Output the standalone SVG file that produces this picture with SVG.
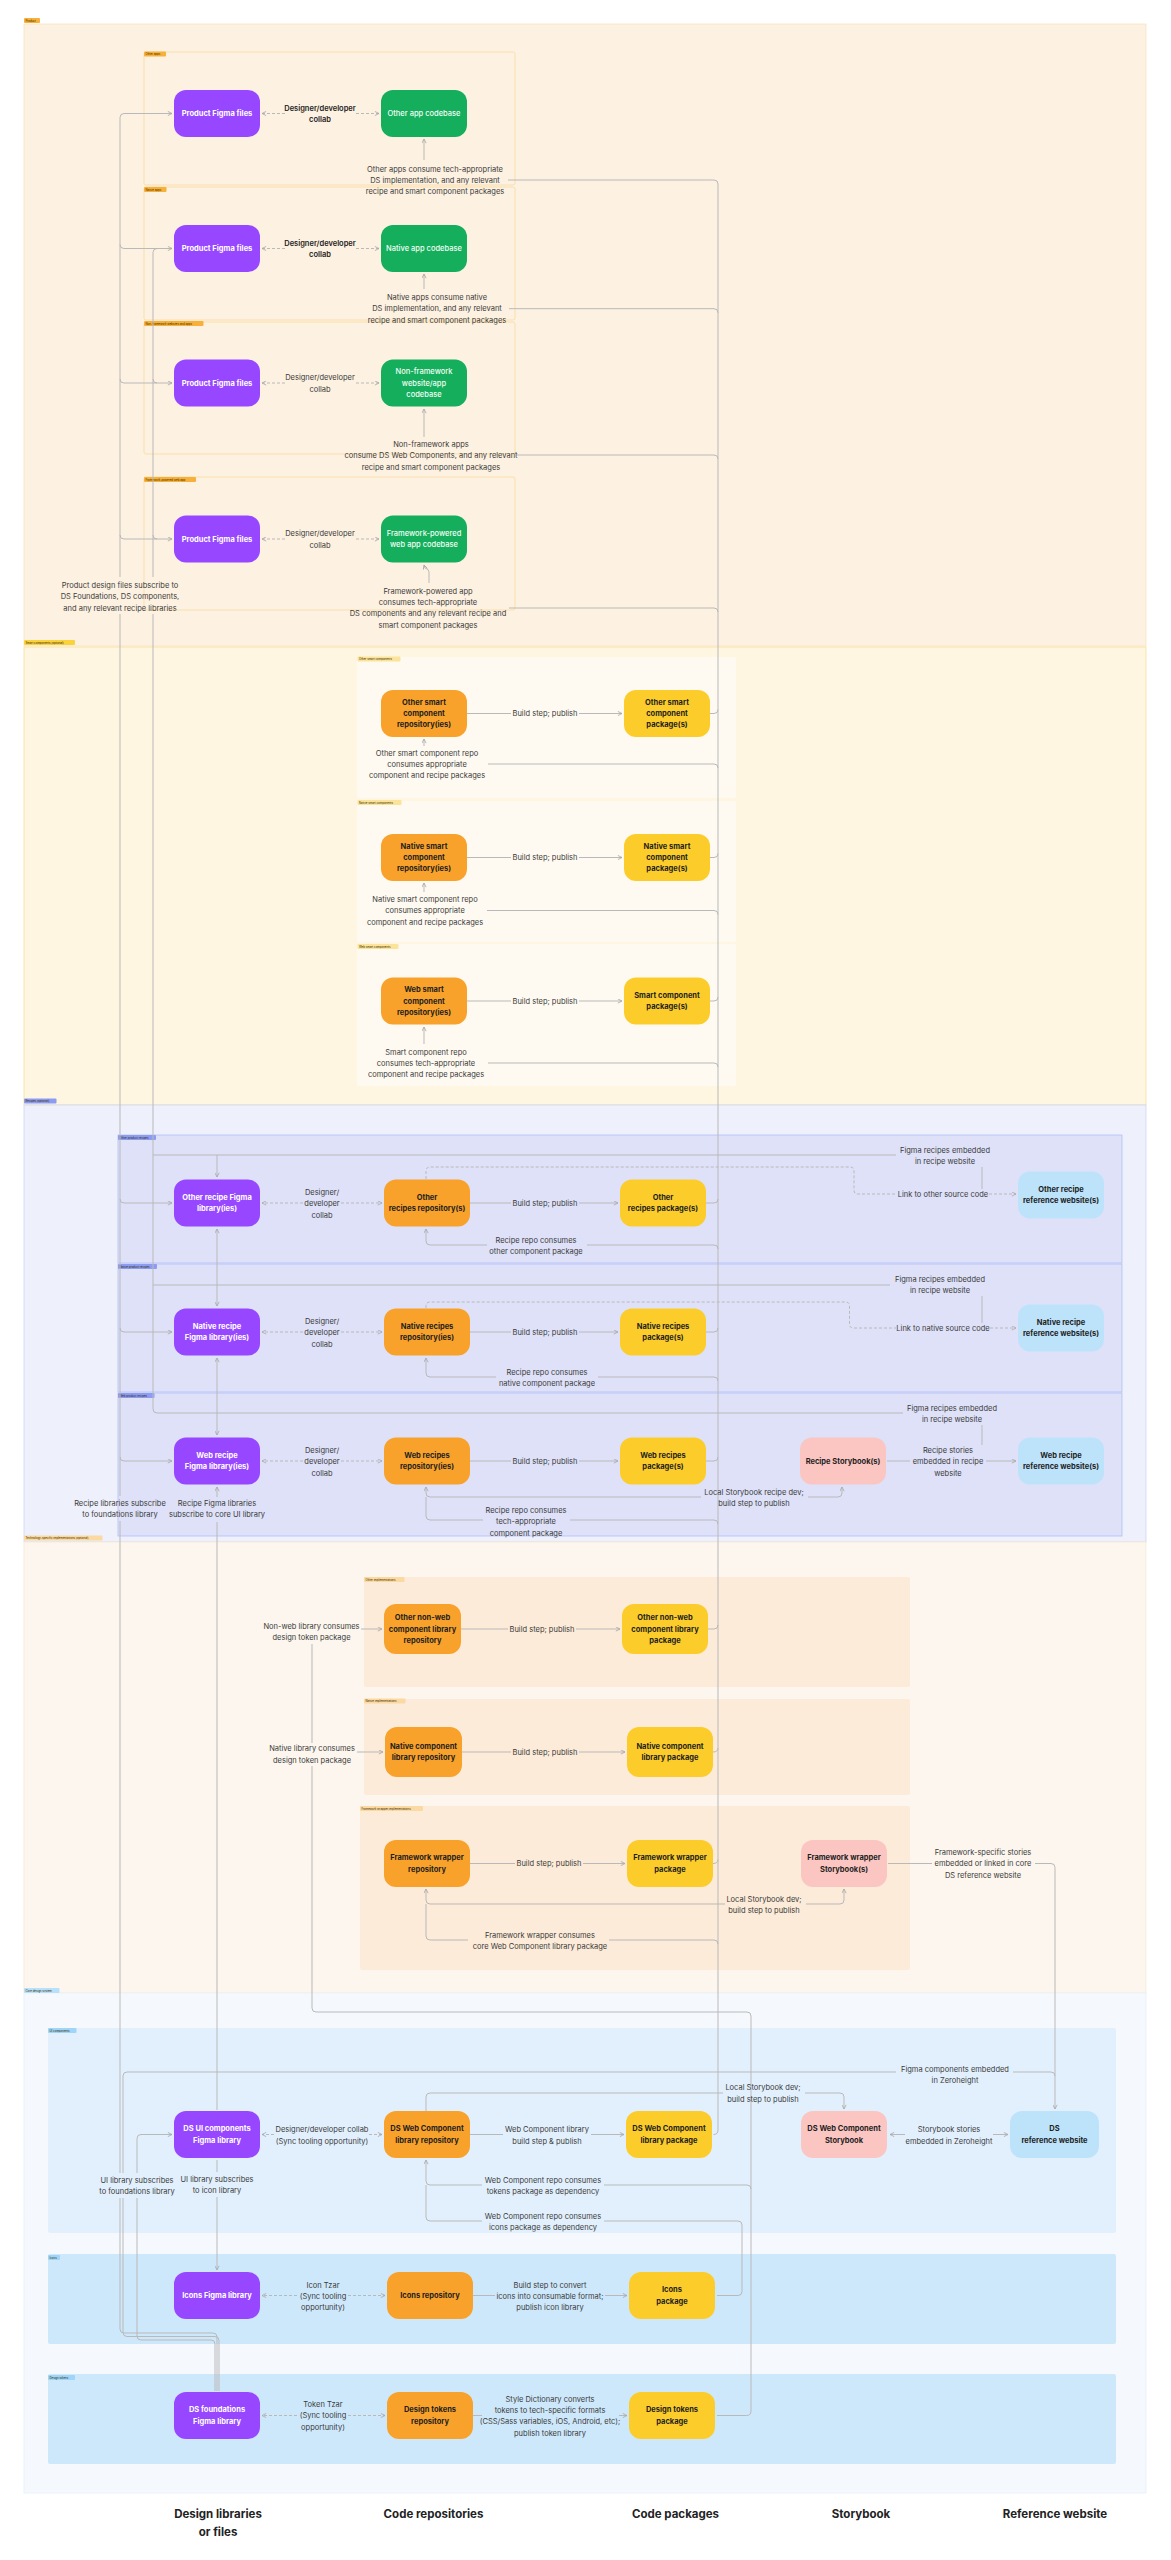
<svg xmlns="http://www.w3.org/2000/svg" width="1171" height="2560" viewBox="0 0 1171 2560">
<style>
.t{font-family:Inter,"Liberation Sans",sans-serif;font-size:7.5px;text-anchor:middle;dominant-baseline:central}
.tw{fill:#fff;font-weight:700}
.tg{fill:#f2fff5;font-weight:500}
.td{fill:#1e1e1e;font-weight:700}
.l{font-family:Inter,"Liberation Sans",sans-serif;font-size:7.5px;fill:#3a3a3a;text-anchor:middle;dominant-baseline:central}
.lb{font-weight:600;fill:#222}
.h{font-family:Inter,"Liberation Sans",sans-serif;font-size:11.5px;font-weight:700;fill:#222;text-anchor:middle}
.tag{font-family:Inter,"Liberation Sans",sans-serif;font-size:2.8px;fill:#3a2a00;dominant-baseline:central}
.ln{fill:none;stroke:#b9b9b9;stroke-width:1}
.ds{stroke-dasharray:3 2}
.np{fill:#9747ff}.ng{fill:#14ae5c}.no{fill:#f9a22b}.ny{fill:#fccd2a}.nk{fill:#fbc6c2}.nb{fill:#bde3fa}
</style>
<defs>
<marker id="a" viewBox="0 0 6 6" refX="5.5" refY="3" markerWidth="5" markerHeight="5" markerUnits="userSpaceOnUse" orient="auto-start-reverse">
<path d="M0.5,0.5 L5.5,3 L0.5,5.5" fill="none" stroke="#a8a8a8" stroke-width="1"/>
</marker>
</defs>
<rect width="1171" height="2560" fill="#ffffff"/>

<g id="frames">
<rect x="24" y="24" width="1122" height="622" fill="#fdf1e1" stroke="#fbe4c0" stroke-width="0.8"/>
<rect x="24" y="647" width="1122" height="458" fill="#fef6e1" stroke="#f9df95" stroke-width="0.8"/>
<rect x="24" y="1105" width="1122" height="437" fill="#eef0fc" stroke="#cdd4f8" stroke-width="0.8"/>
<rect x="24" y="1542" width="1122" height="451" fill="#fcf6ee" stroke="#f7ead6" stroke-width="0.8"/>
<rect x="24" y="1993" width="1122" height="500" fill="#f5f9fe" stroke="#e6f0fb" stroke-width="0.8"/>

<rect x="144" y="52" width="371" height="133" rx="2" fill="none" stroke="#f9dca0" stroke-width="0.8"/>
<rect x="144" y="187" width="371" height="133" rx="2" fill="none" stroke="#f9dca0" stroke-width="0.8"/>
<rect x="144" y="322" width="371" height="132" rx="2" fill="none" stroke="#f9dca0" stroke-width="0.8"/>
<rect x="144" y="477" width="371" height="133" rx="2" fill="none" stroke="#f9dca0" stroke-width="0.8"/>

<rect x="357" y="657" width="379" height="141" rx="2" fill="#fffaf1"/>
<rect x="357" y="801" width="379" height="141" rx="2" fill="#fffaf1"/>
<rect x="357" y="944" width="379" height="142" rx="2" fill="#fffaf1"/>

<rect x="118" y="1135" width="1004" height="128" fill="#dee1f8" stroke="#b4bff4" stroke-width="0.8"/>
<rect x="118" y="1264" width="1004" height="128" fill="#dee1f8" stroke="#b4bff4" stroke-width="0.8"/>
<rect x="118" y="1393" width="1004" height="143" fill="#dee1f8" stroke="#b4bff4" stroke-width="0.8"/>

<rect x="364" y="1577" width="546" height="110" rx="2" fill="#fcebd8"/>
<rect x="364" y="1699" width="546" height="96" rx="2" fill="#fcebd8"/>
<rect x="360" y="1806" width="550" height="164" rx="2" fill="#fcebd8"/>

<rect x="48" y="2028" width="1068" height="205" rx="2" fill="#e2f0fd"/>
<rect x="48" y="2254" width="1068" height="90" rx="2" fill="#cee8fb"/>
<rect x="48" y="2374" width="1068" height="90" rx="2" fill="#cee8fb"/>
</g>

<g id="tags">
<rect x="24" y="18" width="16" height="5" rx="1" fill="#f7b13a"/><text class="tag" x="25.5" y="20.5">Product</text>
<rect x="144" y="51.5" width="22" height="5" rx="1" fill="#f7b13a"/><text class="tag" x="145.5" y="54">Other apps</text>
<rect x="144" y="187" width="22.5" height="5" rx="1" fill="#f7b13a"/><text class="tag" x="145.5" y="189.5">Native apps</text>
<rect x="144" y="321" width="59.5" height="5" rx="1" fill="#f7b13a"/><text class="tag" x="145.5" y="323.5">Non-framework websites and apps</text>
<rect x="144" y="477" width="52" height="5" rx="1" fill="#f7b13a"/><text class="tag" x="145.5" y="479.5">Framework-powered web app</text>
<rect x="24" y="640" width="51" height="5" rx="1" fill="#f9d23c"/><text class="tag" x="25.5" y="642.5">Smart components (optional)</text>
<rect x="357.5" y="656.5" width="43" height="5" rx="1" fill="#fbe49a"/><text class="tag" x="359" y="659">Other smart components</text>
<rect x="357.5" y="800" width="44" height="5" rx="1" fill="#fbe49a"/><text class="tag" x="359" y="802.5">Native smart components</text>
<rect x="357.5" y="944" width="41" height="5" rx="1" fill="#fbe49a"/><text class="tag" x="359" y="946.5">Web smart components</text>
<rect x="24" y="1098.5" width="32.5" height="5" rx="1" fill="#8c9cf2"/><text class="tag" x="25.5" y="1101" fill="#fff">Recipes (optional)</text>
<rect x="118" y="1135" width="38" height="5" rx="1" fill="#8c9cf2"/><text class="tag" x="119.5" y="1137.5" fill="#fff">Other product recipes</text>
<rect x="118" y="1264" width="39" height="5" rx="1" fill="#8c9cf2"/><text class="tag" x="119.5" y="1266.5" fill="#fff">Native product recipes</text>
<rect x="118" y="1393" width="36.5" height="5" rx="1" fill="#8c9cf2"/><text class="tag" x="119.5" y="1395.5" fill="#fff">Web product recipes</text>
<rect x="24" y="1535.5" width="78.5" height="5" rx="1" fill="#fbd9a0"/><text class="tag" x="25.5" y="1538">Technology-specific implementations (optional)</text>
<rect x="364" y="1577" width="40.5" height="5" rx="1" fill="#fbd9a0"/><text class="tag" x="365.5" y="1579.5">Other implementations</text>
<rect x="364" y="1698.5" width="41.5" height="5" rx="1" fill="#fbd9a0"/><text class="tag" x="365.5" y="1701">Native implementations</text>
<rect x="360" y="1806" width="63" height="5" rx="1" fill="#fbd9a0"/><text class="tag" x="361.5" y="1808.5">Framework wrapper implementations</text>
<rect x="24" y="1988" width="35.5" height="5" rx="1" fill="#b8e0fa"/><text class="tag" x="25.5" y="1990.5">Core design system</text>
<rect x="48" y="2028" width="28.5" height="5" rx="1" fill="#9fd5f8"/><text class="tag" x="49.5" y="2030.5">UI components</text>
<rect x="48" y="2255" width="12" height="5" rx="1" fill="#9fd5f8"/><text class="tag" x="49.5" y="2257.5">Icons</text>
<rect x="48" y="2375" width="27" height="5" rx="1" fill="#9fd5f8"/><text class="tag" x="49.5" y="2377.5">Design tokens</text>
</g>

<g id="connectors">
<path class="ln" d="M120,577 L120,117.5 Q120,113.5 124,113.5 L172,113.5" marker-end="url(#a)"/>
<path class="ln" d="M120,614 L120,1496"/>
<path class="ln" d="M120,1521 L120,2173"/>
<path class="ln" d="M120,2198 L120,2329 Q120,2333 124,2333 L213,2333 Q217,2333 217,2337 L217,2391"/>
<path class="ln" d="M123,2198 L123,2332.5 Q123,2336.5 127,2336.5 L215,2336.5 Q219,2336.5 219,2340.5 L219,2391"/>
<path class="ln" d="M123,2173 L123,2076 Q123,2072 127,2072 L896,2072"/>
<path class="ln" d="M1013,2072 L1051,2072 Q1055,2072 1055,2076"/>
<path class="ln" d="M137,2173 L137,2138.5 Q137,2134.5 141,2134.5 L172,2134.5" marker-end="url(#a)"/>
<path class="ln" d="M137,2198 L137,2336 Q137,2340 141,2340 L211,2340 Q215,2340 215,2344 L215,2391"/>
<path class="ln" d="M120,244.5 Q120,248.5 124,248.5 L172,248.5" marker-end="url(#a)"/>
<path class="ln" d="M120,379 Q120,383 124,383 L172,383" marker-end="url(#a)"/>
<path class="ln" d="M120,535 Q120,539 124,539 L172,539" marker-end="url(#a)"/>
<path class="ln" d="M120,1199 Q120,1203 124,1203 L172,1203" marker-end="url(#a)"/>
<path class="ln" d="M120,1328 Q120,1332 124,1332 L172,1332" marker-end="url(#a)"/>
<path class="ln" d="M120,1457 Q120,1461 124,1461 L172,1461" marker-end="url(#a)"/>
<path class="ln" d="M157,248.5 Q153,248.5 153,252.5 L153,577"/>
<path class="ln" d="M153,379 Q153,383 157,383"/>
<path class="ln" d="M153,535 Q153,539 157,539"/>
<path class="ln" d="M153,614 L153,1409 Q153,1413 157,1413 L903,1413"/>
<path class="ln" d="M153,1155 L896,1155"/>
<path class="ln" d="M153,1285 L890,1285"/>
<path class="ln" d="M217,1155 L217,1177" marker-end="url(#a)"/>
<path class="ln" d="M217,1285 L217,1306" marker-end="url(#a)"/>
<path class="ln" d="M217,1413 L217,1435" marker-end="url(#a)"/>
<path class="ln" d="M217,1285 L217,1229" marker-end="url(#a)"/>
<path class="ln" d="M217,1413 L217,1358" marker-end="url(#a)"/>
<path class="ln" d="M217,1497 L217,1487" marker-end="url(#a)"/>
<path class="ln" d="M217,1522 L217,2110"/>
<path class="ln" d="M217,2160 L217,2172"/>
<path class="ln" d="M217,2197 L217,2270" marker-end="url(#a)"/>

<path class="ln ds" d="M285,113.5 L262,113.5" marker-end="url(#a)"/>
<path class="ln ds" d="M356,113.5 L379,113.5" marker-end="url(#a)"/>
<path class="ln ds" d="M285,248.5 L262,248.5" marker-end="url(#a)"/>
<path class="ln ds" d="M356,248.5 L379,248.5" marker-end="url(#a)"/>
<path class="ln ds" d="M285,383 L262,383" marker-end="url(#a)"/>
<path class="ln ds" d="M356,383 L379,383" marker-end="url(#a)"/>
<path class="ln ds" d="M285,539 L262,539" marker-end="url(#a)"/>
<path class="ln ds" d="M356,539 L379,539" marker-end="url(#a)"/>
<path class="ln" d="M424,160 L424,139" marker-end="url(#a)"/>
<path class="ln" d="M424,289 L424,274" marker-end="url(#a)"/>
<path class="ln" d="M424,437 L424,409" marker-end="url(#a)"/>
<path class="ln" d="M429,583 L429,572 Q429,569 425,568 L424,565" marker-end="url(#a)"/>
<path class="ln" d="M508,180 L714,180 Q718,180 718,184 L718,2130 Q718,2134.5 713.5,2134.5"/>
<path class="ln" d="M509,308.7 L714,308.7 Q718,308.7 718,312.7"/>
<path class="ln" d="M516,455 L714,455 Q718,455 718,459"/>
<path class="ln" d="M509,608 L714,608 Q718,608 718,612"/>

<path class="ln" d="M424,746 L424,739" marker-end="url(#a)"/>
<path class="ln" d="M424,892 L424,883" marker-end="url(#a)"/>
<path class="ln" d="M424,1044 L424,1027" marker-end="url(#a)"/>
<path class="ln" d="M488,764 L714,764 Q718,764 718,768"/>
<path class="ln" d="M487,910.5 L714,910.5 Q718,910.5 718,914.5"/>
<path class="ln" d="M488,1063 L714,1063 Q718,1063 718,1067"/>
<path class="ln" d="M467,713.5 L511,713.5"/><path class="ln" d="M579,713.5 L622,713.5" marker-end="url(#a)"/>
<path class="ln" d="M467,857.5 L511,857.5"/><path class="ln" d="M579,857.5 L622,857.5" marker-end="url(#a)"/>
<path class="ln" d="M467,1001 L511,1001"/><path class="ln" d="M579,1001 L622,1001" marker-end="url(#a)"/>
<path class="ln" d="M710,713.5 L714,713.5 Q718,713.5 718,709.5"/>
<path class="ln" d="M710,857.5 L714,857.5 Q718,857.5 718,853.5"/>
<path class="ln" d="M710,1001 L714,1001 Q718,1001 718,997"/>

<path class="ln ds" d="M303,1203 L262,1203" marker-end="url(#a)"/>
<path class="ln ds" d="M341,1203 L382,1203" marker-end="url(#a)"/>
<path class="ln ds" d="M303,1332 L262,1332" marker-end="url(#a)"/>
<path class="ln ds" d="M341,1332 L382,1332" marker-end="url(#a)"/>
<path class="ln ds" d="M303,1461 L262,1461" marker-end="url(#a)"/>
<path class="ln ds" d="M341,1461 L382,1461" marker-end="url(#a)"/>
<path class="ln" d="M470,1203 L511,1203"/><path class="ln" d="M579,1203 L618,1203" marker-end="url(#a)"/>
<path class="ln" d="M470,1332 L511,1332"/><path class="ln" d="M579,1332 L618,1332" marker-end="url(#a)"/>
<path class="ln" d="M470,1461 L511,1461"/><path class="ln" d="M579,1461 L618,1461" marker-end="url(#a)"/>
<path class="ln" d="M706,1203 L714,1203 Q718,1203 718,1199"/>
<path class="ln" d="M706,1332 L714,1332 Q718,1332 718,1328"/>
<path class="ln" d="M706,1461 L714,1461 Q718,1461 718,1457"/>
<path class="ln" d="M487,1245 L430,1245 Q426,1245 426,1241 L426,1229" marker-end="url(#a)"/>
<path class="ln" d="M587,1245 L714,1245 Q718,1245 718,1249"/>
<path class="ln" d="M496,1377 L430,1377 Q426,1377 426,1373 L426,1358" marker-end="url(#a)"/>
<path class="ln" d="M598,1377 L714,1377 Q718,1377 718,1381"/>
<path class="ln" d="M701,1497 L430,1497 Q426,1497 426,1493 L426,1487" marker-end="url(#a)"/>
<path class="ln" d="M808,1497 L838,1497 Q842,1497 842,1493 L842,1487" marker-end="url(#a)"/>
<path class="ln" d="M426,1497 L426,1516 Q426,1520 430,1520 L483,1520"/>
<path class="ln" d="M570,1520 L714,1520 Q718,1520 718,1524"/>
<path class="ln ds" d="M426,1179 L426,1171 Q426,1167 430,1167 L850,1167 Q854,1167 854,1171 L854,1190 Q854,1194 858,1194 L897,1194"/>
<path class="ln ds" d="M989,1194 L1016,1194" marker-end="url(#a)"/>
<path class="ln ds" d="M426,1308 L426,1306 Q426,1302 430,1302 L845.5,1302 Q849.5,1302 849.5,1306 L849.5,1324 Q849.5,1328 853.5,1328 L896,1328"/>
<path class="ln ds" d="M990,1328 L1016,1328" marker-end="url(#a)"/>
<path class="ln" d="M982,1167 L982,1189"/>
<path class="ln" d="M982,1296 L982,1323"/>
<path class="ln" d="M982,1425 L982,1445"/>
<path class="ln" d="M887,1461 L910,1461"/><path class="ln" d="M986,1461 L1016,1461" marker-end="url(#a)"/>

<path class="ln" d="M361,1629 L382,1629" marker-end="url(#a)"/>
<path class="ln" d="M357,1752 L383,1752" marker-end="url(#a)"/>
<path class="ln" d="M312,1644 L312,1743"/>
<path class="ln" d="M312,1766 L312,2008 Q312,2012 316,2012 L747,2012 Q751,2012 751,2016 L751,2411 Q751,2415.5 746.5,2415.5 L717,2415.5"/>
<path class="ln" d="M461,1629 L508,1629"/><path class="ln" d="M576,1629 L620,1629" marker-end="url(#a)"/>
<path class="ln" d="M462,1752 L511,1752"/><path class="ln" d="M579,1752 L625,1752" marker-end="url(#a)"/>
<path class="ln" d="M470,1863.5 L515,1863.5"/><path class="ln" d="M583,1863.5 L625,1863.5" marker-end="url(#a)"/>
<path class="ln" d="M708,1629 L714,1629 Q718,1629 718,1625"/>
<path class="ln" d="M713,1752 Q718,1752 718,1748"/>
<path class="ln" d="M713,1863.5 Q718,1863.5 718,1859.5"/>
<path class="ln" d="M725,1904 L430,1904 Q426,1904 426,1900 L426,1889" marker-end="url(#a)"/>
<path class="ln" d="M806,1904 L840,1904 Q844,1904 844,1900 L844,1889" marker-end="url(#a)"/>
<path class="ln" d="M426,1904 L426,1936 Q426,1940 430,1940 L468,1940"/>
<path class="ln" d="M609,1940 L714,1940 Q718,1940 718,1944"/>
<path class="ln" d="M888,1863.5 L932,1863.5"/>
<path class="ln" d="M1035,1863.5 L1051,1863.5 Q1055,1863.5 1055,1867.5 L1055,2109" marker-end="url(#a)"/>

<path class="ln" d="M426,2111 L426,2097 Q426,2093 430,2093 L723,2093"/>
<path class="ln" d="M805,2093 L840,2093 Q844,2093 844,2097 L844,2109" marker-end="url(#a)"/>
<path class="ln" d="M482,2185 L430,2185 Q426,2185 426,2181 L426,2160" marker-end="url(#a)"/>
<path class="ln" d="M604,2185 L747,2185 Q751,2185 751,2189"/>
<path class="ln" d="M426,2185 L426,2217 Q426,2221 430,2221 L482,2221"/>
<path class="ln" d="M604,2221 L738,2221 Q742,2221 742,2225 L742,2291.5 Q742,2295.5 738,2295.5 L717,2295.5"/>
<path class="ln ds" d="M274,2134.5 L262,2134.5" marker-end="url(#a)"/>
<path class="ln ds" d="M369,2134.5 L382,2134.5" marker-end="url(#a)"/>
<path class="ln ds" d="M297,2295.5 L262,2295.5" marker-end="url(#a)"/>
<path class="ln ds" d="M348,2295.5 L385,2295.5" marker-end="url(#a)"/>
<path class="ln ds" d="M297,2415.5 L262,2415.5" marker-end="url(#a)"/>
<path class="ln ds" d="M348,2415.5 L385,2415.5" marker-end="url(#a)"/>
<path class="ln" d="M470,2134.5 L503,2134.5"/><path class="ln" d="M591,2134.5 L624,2134.5" marker-end="url(#a)"/>
<path class="ln" d="M472,2295.5 L495,2295.5"/><path class="ln" d="M605,2295.5 L627,2295.5" marker-end="url(#a)"/>
<path class="ln" d="M472,2415.5 L482,2415.5"/><path class="ln" d="M619,2415.5 L627,2415.5" marker-end="url(#a)"/>
<path class="ln" d="M905,2134.5 L890,2134.5" marker-end="url(#a)"/>
<path class="ln" d="M993,2134.5 L1008,2134.5" marker-end="url(#a)"/>
</g>

<g id="labels">
<text class="l lb" x="320" y="108">Designer/developer</text><text class="l lb" x="320" y="119.5">collab</text>
<text class="l lb" x="320" y="243">Designer/developer</text><text class="l lb" x="320" y="254.5">collab</text>
<text class="l" x="320" y="377.5">Designer/developer</text><text class="l" x="320" y="389">collab</text>
<text class="l" x="320" y="533.5">Designer/developer</text><text class="l" x="320" y="545">collab</text>
<text class="l" x="435" y="169">Other apps consume tech-appropriate</text><text class="l" x="435" y="180">DS implementation, and any relevant</text><text class="l" x="435" y="191">recipe and smart component packages</text>
<text class="l" x="437" y="297">Native apps consume native</text><text class="l" x="437" y="308.7">DS implementation, and any relevant</text><text class="l" x="437" y="320">recipe and smart component packages</text>
<text class="l" x="431" y="444">Non-framework apps</text><text class="l" x="431" y="455">consume DS Web Components, and any relevant</text><text class="l" x="431" y="467">recipe and smart component packages</text>
<text class="l" x="428" y="591">Framework-powered app</text><text class="l" x="428" y="602">consumes tech-appropriate</text><text class="l" x="428" y="613">DS components and any relevant recipe and</text><text class="l" x="428" y="625">smart component packages</text>
<text class="l" x="120" y="585">Product design files subscribe to</text><text class="l" x="120" y="596.5">DS Foundations, DS components,</text><text class="l" x="120" y="608">and any relevant recipe libraries</text>

<text class="l" x="427" y="753">Other smart component repo</text><text class="l" x="427" y="764">consumes appropriate</text><text class="l" x="427" y="775">component and recipe packages</text>
<text class="l" x="425" y="899">Native smart component repo</text><text class="l" x="425" y="910.5">consumes appropriate</text><text class="l" x="425" y="922">component and recipe packages</text>
<text class="l" x="426" y="1052">Smart component repo</text><text class="l" x="426" y="1063">consumes tech-appropriate</text><text class="l" x="426" y="1074.5">component and recipe packages</text>
<text class="l" x="545" y="713.5">Build step; publish</text>
<text class="l" x="545" y="857.5">Build step; publish</text>
<text class="l" x="545" y="1001">Build step; publish</text>

<text class="l" x="322" y="1192">Designer/</text><text class="l" x="322" y="1203.5">developer</text><text class="l" x="322" y="1215">collab</text>
<text class="l" x="322" y="1321">Designer/</text><text class="l" x="322" y="1332.5">developer</text><text class="l" x="322" y="1344">collab</text>
<text class="l" x="322" y="1450">Designer/</text><text class="l" x="322" y="1461.5">developer</text><text class="l" x="322" y="1473">collab</text>
<text class="l" x="545" y="1203">Build step; publish</text>
<text class="l" x="545" y="1332">Build step; publish</text>
<text class="l" x="545" y="1461">Build step; publish</text>
<text class="l" x="536" y="1240">Recipe repo consumes</text><text class="l" x="536" y="1251">other component package</text>
<text class="l" x="547" y="1372">Recipe repo consumes</text><text class="l" x="547" y="1383">native component package</text>
<text class="l" x="526" y="1510">Recipe repo consumes</text><text class="l" x="526" y="1521.5">tech-appropriate</text><text class="l" x="526" y="1533">component package</text>
<text class="l" x="945" y="1150">Figma recipes embedded</text><text class="l" x="945" y="1161">in recipe website</text>
<text class="l" x="943" y="1194">Link to other source code</text>
<text class="l" x="940" y="1279">Figma recipes embedded</text><text class="l" x="940" y="1290">in recipe website</text>
<text class="l" x="943" y="1328">Link to native source code</text>
<text class="l" x="952" y="1408">Figma recipes embedded</text><text class="l" x="952" y="1419">in recipe website</text>
<text class="l" x="948" y="1450">Recipe stories</text><text class="l" x="948" y="1461.5">embedded in recipe</text><text class="l" x="948" y="1473">website</text>
<text class="l" x="754" y="1492">Local Storybook recipe dev;</text><text class="l" x="754" y="1503">build step to publish</text>
<text class="l" x="120" y="1503">Recipe libraries subscribe</text><text class="l" x="120" y="1514.5">to foundations library</text>
<text class="l" x="217" y="1503">Recipe Figma libraries</text><text class="l" x="217" y="1514.5">subscribe to core UI library</text>

<text class="l" x="311.5" y="1626">Non-web library consumes</text><text class="l" x="311.5" y="1637">design token package</text>
<text class="l" x="312" y="1748">Native library consumes</text><text class="l" x="312" y="1760">design token package</text>
<text class="l" x="542" y="1629">Build step; publish</text>
<text class="l" x="545" y="1752">Build step; publish</text>
<text class="l" x="549" y="1863.5">Build step; publish</text>
<text class="l" x="983" y="1852">Framework-specific stories</text><text class="l" x="983" y="1863.5">embedded or linked in core</text><text class="l" x="983" y="1875">DS reference website</text>
<text class="l" x="764" y="1899">Local Storybook dev;</text><text class="l" x="764" y="1910">build step to publish</text>
<text class="l" x="540" y="1935">Framework wrapper consumes</text><text class="l" x="540" y="1946">core Web Component library package</text>

<text class="l" x="955" y="2069">Figma components embedded</text><text class="l" x="955" y="2080">in Zeroheight</text>
<text class="l" x="763" y="2087">Local Storybook dev;</text><text class="l" x="763" y="2099">build step to publish</text>
<text class="l" x="322" y="2129">Designer/developer collab</text><text class="l" x="322" y="2141">(Sync tooling opportunity)</text>
<text class="l" x="547" y="2129">Web Component library</text><text class="l" x="547" y="2141">build step &amp; publish</text>
<text class="l" x="949" y="2129">Storybook stories</text><text class="l" x="949" y="2141">embedded in Zeroheight</text>
<text class="l" x="543" y="2180">Web Component repo consumes</text><text class="l" x="543" y="2191.5">tokens package as dependency</text>
<text class="l" x="543" y="2216">Web Component repo consumes</text><text class="l" x="543" y="2227.5">icons package as dependency</text>
<text class="l" x="137" y="2180">UI library subscribes</text><text class="l" x="137" y="2191">to foundations library</text>
<text class="l" x="217" y="2179">UI library subscribes</text><text class="l" x="217" y="2190">to icon library</text>
<text class="l" x="323" y="2285">Icon Tzar</text><text class="l" x="323" y="2296">(Sync tooling</text><text class="l" x="323" y="2307">opportunity)</text>
<text class="l" x="550" y="2285">Build step to convert</text><text class="l" x="550" y="2296">icons into consumable format;</text><text class="l" x="550" y="2307">publish icon library</text>
<text class="l" x="323" y="2404">Token Tzar</text><text class="l" x="323" y="2415.5">(Sync tooling</text><text class="l" x="323" y="2427">opportunity)</text>
<text class="l" x="550" y="2399">Style Dictionary converts</text><text class="l" x="550" y="2410">tokens to tech-specific formats</text><text class="l" x="550" y="2421">(CSS/Sass variables, iOS, Android, etc);</text><text class="l" x="550" y="2433">publish token library</text>
</g>

<g id="n-product-figma-1"><rect class="np" x="174" y="90" width="86" height="47" rx="12"/><text class="t tw" x="217" y="113.5">Product Figma files</text></g>
<g id="n-other-app-codebase"><rect class="ng" x="381" y="90" width="86" height="47" rx="12"/><text class="t tg" x="424" y="113.5">Other app codebase</text></g>
<g id="n-product-figma-2"><rect class="np" x="174" y="225" width="86" height="47" rx="12"/><text class="t tw" x="217" y="248.5">Product Figma files</text></g>
<g id="n-native-app-codebase"><rect class="ng" x="381" y="225" width="86" height="47" rx="12"/><text class="t tg" x="424" y="248.5">Native app codebase</text></g>
<g id="n-product-figma-3"><rect class="np" x="174" y="359.5" width="86" height="47" rx="12"/><text class="t tw" x="217" y="383">Product Figma files</text></g>
<g id="n-nonframework-codebase"><rect class="ng" x="381" y="359.5" width="86" height="47" rx="12"/><text class="t tg" x="424" y="371.7">Non-framework</text><text class="t tg" x="424" y="383">website/app</text><text class="t tg" x="424" y="394.3">codebase</text></g>
<g id="n-product-figma-4"><rect class="np" x="174" y="515.5" width="86" height="47" rx="12"/><text class="t tw" x="217" y="539">Product Figma files</text></g>
<g id="n-framework-codebase"><rect class="ng" x="381" y="515.5" width="86" height="47" rx="12"/><text class="t tg" x="424" y="533.3">Framework-powered</text><text class="t tg" x="424" y="544.7">web app codebase</text></g>

<g id="n-other-smart-repo"><rect class="no" x="381" y="690" width="86" height="47" rx="12"/><text class="t td" x="424" y="702.2">Other smart</text><text class="t td" x="424" y="713.5">component</text><text class="t td" x="424" y="724.8">repository(ies)</text></g>
<g id="n-other-smart-pkg"><rect class="ny" x="624" y="690" width="86" height="47" rx="12"/><text class="t td" x="667" y="702.2">Other smart</text><text class="t td" x="667" y="713.5">component</text><text class="t td" x="667" y="724.8">package(s)</text></g>
<g id="n-native-smart-repo"><rect class="no" x="381" y="834" width="86" height="47" rx="12"/><text class="t td" x="424" y="846.2">Native smart</text><text class="t td" x="424" y="857.5">component</text><text class="t td" x="424" y="868.8">repository(ies)</text></g>
<g id="n-native-smart-pkg"><rect class="ny" x="624" y="834" width="86" height="47" rx="12"/><text class="t td" x="667" y="846.2">Native smart</text><text class="t td" x="667" y="857.5">component</text><text class="t td" x="667" y="868.8">package(s)</text></g>
<g id="n-web-smart-repo"><rect class="no" x="381" y="977.5" width="86" height="47" rx="12"/><text class="t td" x="424" y="989.7">Web smart</text><text class="t td" x="424" y="1001">component</text><text class="t td" x="424" y="1012.3">repository(ies)</text></g>
<g id="n-smart-pkg"><rect class="ny" x="624" y="977.5" width="86" height="47" rx="12"/><text class="t td" x="667" y="995.3">Smart component</text><text class="t td" x="667" y="1006.7">package(s)</text></g>

<g id="n-other-recipe-figma"><rect class="np" x="174" y="1179.5" width="86" height="47" rx="12"/><text class="t tw" x="217" y="1197.3">Other recipe Figma</text><text class="t tw" x="217" y="1208.7">library(ies)</text></g>
<g id="n-other-recipe-repo"><rect class="no" x="384" y="1179.5" width="86" height="47" rx="12"/><text class="t td" x="427" y="1197.3">Other</text><text class="t td" x="427" y="1208.7">recipes repository(s)</text></g>
<g id="n-other-recipe-pkg"><rect class="ny" x="620" y="1179.5" width="86" height="47" rx="12"/><text class="t td" x="663" y="1197.3">Other</text><text class="t td" x="663" y="1208.7">recipes package(s)</text></g>
<g id="n-other-recipe-web"><rect class="nb" x="1018" y="1171.5" width="86" height="47" rx="12"/><text class="t td" x="1061" y="1189.3">Other recipe</text><text class="t td" x="1061" y="1200.7">reference website(s)</text></g>
<g id="n-native-recipe-figma"><rect class="np" x="174" y="1308.5" width="86" height="47" rx="12"/><text class="t tw" x="217" y="1326.3">Native recipe</text><text class="t tw" x="217" y="1337.7">Figma library(ies)</text></g>
<g id="n-native-recipe-repo"><rect class="no" x="384" y="1308.5" width="86" height="47" rx="12"/><text class="t td" x="427" y="1326.3">Native recipes</text><text class="t td" x="427" y="1337.7">repository(ies)</text></g>
<g id="n-native-recipe-pkg"><rect class="ny" x="620" y="1308.5" width="86" height="47" rx="12"/><text class="t td" x="663" y="1326.3">Native recipes</text><text class="t td" x="663" y="1337.7">package(s)</text></g>
<g id="n-native-recipe-web"><rect class="nb" x="1018" y="1304.5" width="86" height="47" rx="12"/><text class="t td" x="1061" y="1322.3">Native recipe</text><text class="t td" x="1061" y="1333.7">reference website(s)</text></g>
<g id="n-web-recipe-figma"><rect class="np" x="174" y="1437.5" width="86" height="47" rx="12"/><text class="t tw" x="217" y="1455.3">Web recipe</text><text class="t tw" x="217" y="1466.7">Figma library(ies)</text></g>
<g id="n-web-recipe-repo"><rect class="no" x="384" y="1437.5" width="86" height="47" rx="12"/><text class="t td" x="427" y="1455.3">Web recipes</text><text class="t td" x="427" y="1466.7">repository(ies)</text></g>
<g id="n-web-recipe-pkg"><rect class="ny" x="620" y="1437.5" width="86" height="47" rx="12"/><text class="t td" x="663" y="1455.3">Web recipes</text><text class="t td" x="663" y="1466.7">package(s)</text></g>
<g id="n-recipe-storybook"><rect class="nk" x="800" y="1437.5" width="86" height="47" rx="12"/><text class="t td" x="843" y="1461">Recipe Storybook(s)</text></g>
<g id="n-web-recipe-web"><rect class="nb" x="1018" y="1437.5" width="86" height="47" rx="12"/><text class="t td" x="1061" y="1455.3">Web recipe</text><text class="t td" x="1061" y="1466.7">reference website(s)</text></g>

<g id="n-nonweb-repo"><rect class="no" x="384" y="1604" width="77" height="50" rx="12"/><text class="t td" x="422.5" y="1617.7">Other non-web</text><text class="t td" x="422.5" y="1629">component library</text><text class="t td" x="422.5" y="1640.3">repository</text></g>
<g id="n-nonweb-pkg"><rect class="ny" x="622" y="1604" width="86" height="50" rx="12"/><text class="t td" x="665" y="1617.7">Other non-web</text><text class="t td" x="665" y="1629">component library</text><text class="t td" x="665" y="1640.3">package</text></g>
<g id="n-native-lib-repo"><rect class="no" x="385" y="1727" width="77" height="50" rx="12"/><text class="t td" x="423.5" y="1746.3">Native component</text><text class="t td" x="423.5" y="1757.7">library repository</text></g>
<g id="n-native-lib-pkg"><rect class="ny" x="627" y="1727" width="86" height="50" rx="12"/><text class="t td" x="670" y="1746.3">Native component</text><text class="t td" x="670" y="1757.7">library package</text></g>
<g id="n-fw-repo"><rect class="no" x="384" y="1840" width="86" height="47" rx="12"/><text class="t td" x="427" y="1857.8">Framework wrapper</text><text class="t td" x="427" y="1869.2">repository</text></g>
<g id="n-fw-pkg"><rect class="ny" x="627" y="1840" width="86" height="47" rx="12"/><text class="t td" x="670" y="1857.8">Framework wrapper</text><text class="t td" x="670" y="1869.2">package</text></g>
<g id="n-fw-storybook"><rect class="nk" x="801" y="1840" width="86" height="47" rx="12"/><text class="t td" x="844" y="1857.8">Framework wrapper</text><text class="t td" x="844" y="1869.2">Storybook(s)</text></g>

<g id="n-ds-ui-figma"><rect class="np" x="174" y="2111" width="86" height="47" rx="12"/><text class="t tw" x="217" y="2128.8">DS UI components</text><text class="t tw" x="217" y="2140.2">Figma library</text></g>
<g id="n-ds-wc-repo"><rect class="no" x="384" y="2111" width="86" height="47" rx="12"/><text class="t td" x="427" y="2128.8">DS Web Component</text><text class="t td" x="427" y="2140.2">library repository</text></g>
<g id="n-ds-wc-pkg"><rect class="ny" x="626" y="2111" width="86" height="47" rx="12"/><text class="t td" x="669" y="2128.8">DS Web Component</text><text class="t td" x="669" y="2140.2">library package</text></g>
<g id="n-ds-wc-storybook"><rect class="nk" x="801" y="2111" width="86" height="47" rx="12"/><text class="t td" x="844" y="2128.8">DS Web Component</text><text class="t td" x="844" y="2140.2">Storybook</text></g>
<g id="n-ds-ref-web"><rect class="nb" x="1010" y="2111" width="89" height="47" rx="12"/><text class="t td" x="1054.5" y="2128.8">DS</text><text class="t td" x="1054.5" y="2140.2">reference website</text></g>
<g id="n-icons-figma"><rect class="np" x="174" y="2272" width="86" height="47" rx="12"/><text class="t tw" x="217" y="2295.5">Icons Figma library</text></g>
<g id="n-icons-repo"><rect class="no" x="387" y="2272" width="86" height="47" rx="12"/><text class="t td" x="430" y="2295.5">Icons repository</text></g>
<g id="n-icons-pkg"><rect class="ny" x="629" y="2272" width="86" height="47" rx="12"/><text class="t td" x="672" y="2289.8">Icons</text><text class="t td" x="672" y="2301.2">package</text></g>
<g id="n-foundations-figma"><rect class="np" x="174" y="2392" width="86" height="47" rx="12"/><text class="t tw" x="217" y="2409.8">DS foundations</text><text class="t tw" x="217" y="2421.2">Figma library</text></g>
<g id="n-tokens-repo"><rect class="no" x="387" y="2392" width="86" height="47" rx="12"/><text class="t td" x="430" y="2409.8">Design tokens</text><text class="t td" x="430" y="2421.2">repository</text></g>
<g id="n-tokens-pkg"><rect class="ny" x="629" y="2392" width="86" height="47" rx="12"/><text class="t td" x="672" y="2409.8">Design tokens</text><text class="t td" x="672" y="2421.2">package</text></g>

<g id="column-headers">
<text class="h" x="218" y="2518">Design libraries</text><text class="h" x="218" y="2536">or files</text>
<text class="h" x="433.5" y="2518">Code repositories</text>
<text class="h" x="675.5" y="2518">Code packages</text>
<text class="h" x="861" y="2518">Storybook</text>
<text class="h" x="1055" y="2518">Reference website</text>
</g>
</svg>
